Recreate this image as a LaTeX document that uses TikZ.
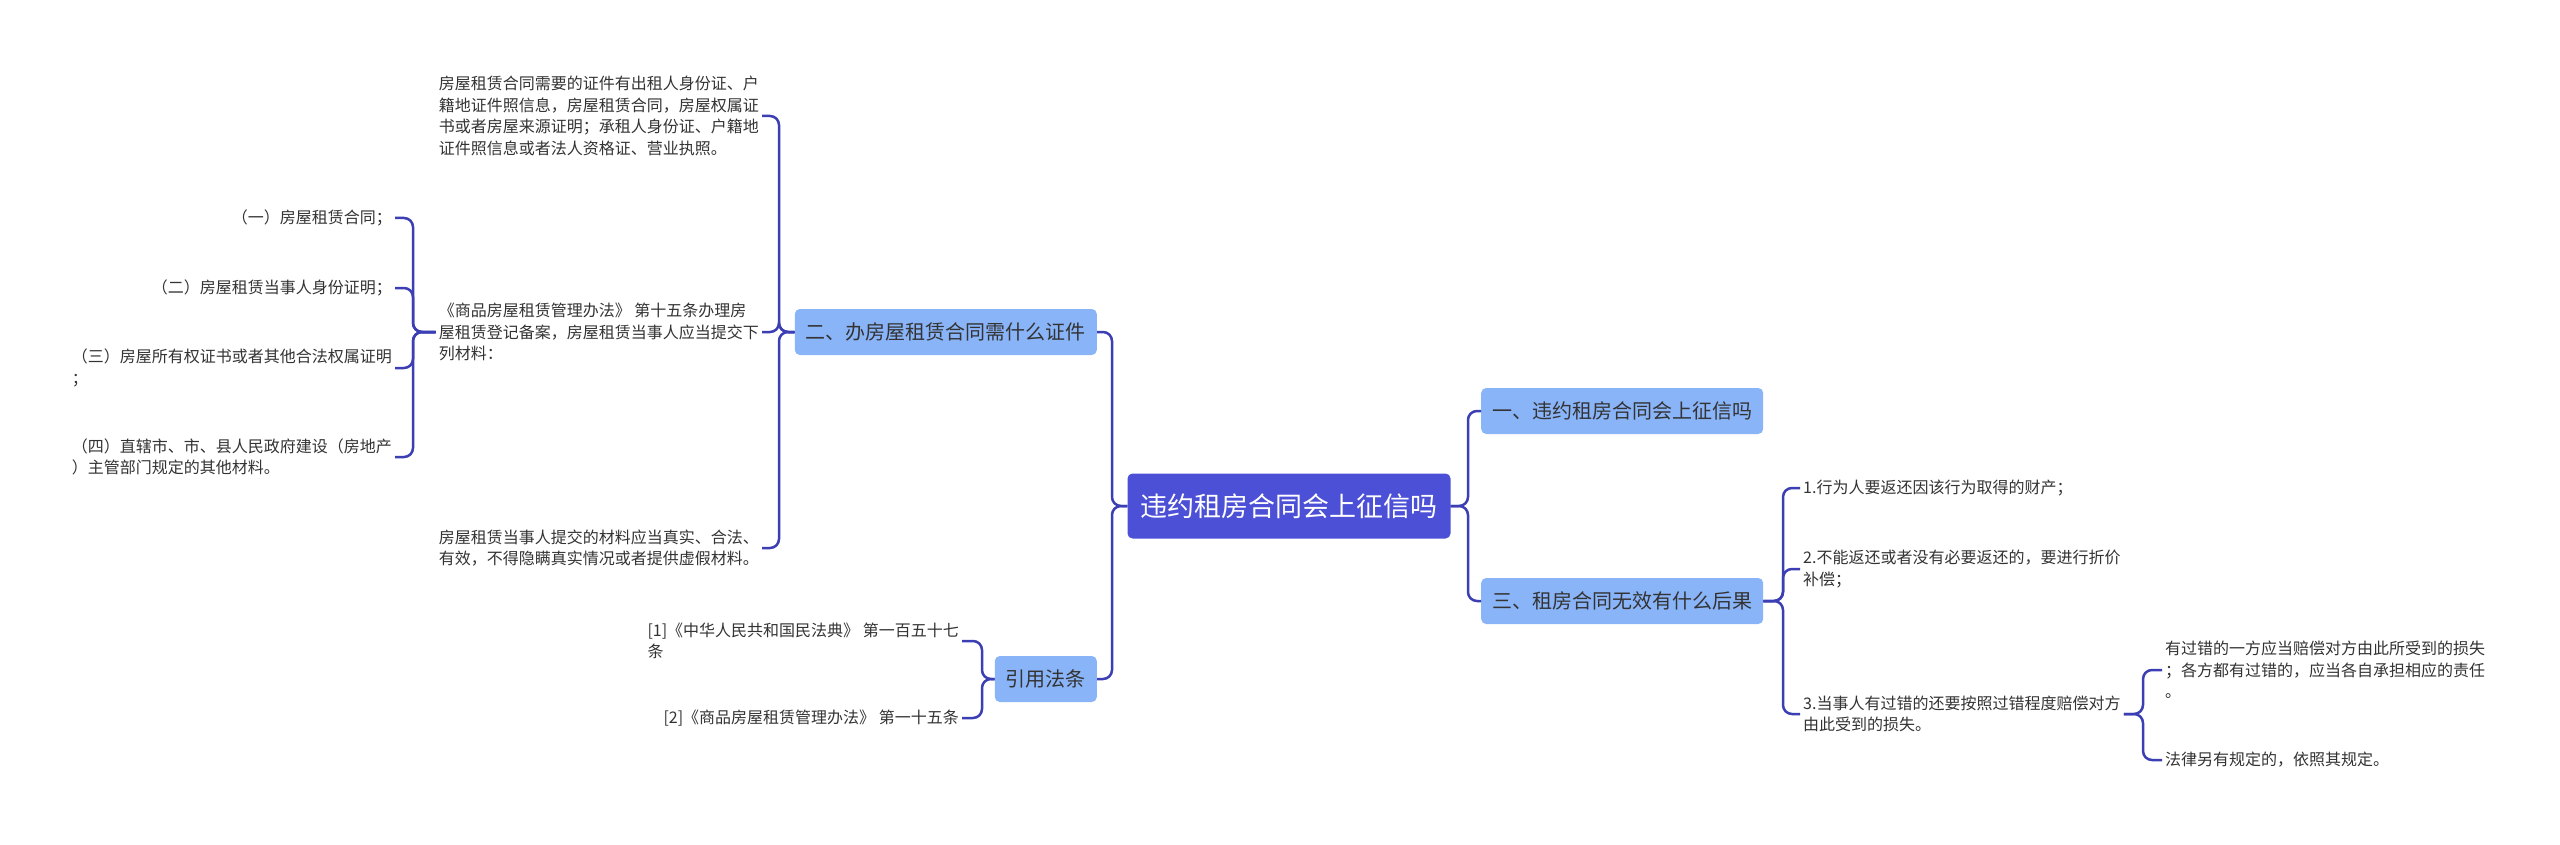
\documentclass[tikz,border=0pt]{standalone}
\usepackage{fontspec}
\newfontfamily\cjk{Noto Sans CJK SC}
\definecolor{linkblue}{HTML}{3B3FB3}
\definecolor{rootblue}{HTML}{4B50D6}
\definecolor{topicblue}{HTML}{8AB4F8}
\definecolor{leafgray}{HTML}{333333}

\begin{document}
\begin{tikzpicture}[x=1pt, y=-1pt,
    root/.style={fill=rootblue, rounded corners=5pt, text=white, font=\cjk\fontsize{27}{32}\selectfont, inner xsep=13pt, minimum height=65pt},
    topic/.style={fill=topicblue, rounded corners=5pt, text=leafgray, font=\cjk\fontsize{20}{24}\selectfont, inner xsep=11pt, minimum height=46pt},
    leaf/.style={text=leafgray, font=\cjk\fontsize{16}{21.5}\selectfont, align=left, inner xsep=3pt, inner ysep=2pt},
    link/.style={draw=linkblue, line width=2.5pt, rounded corners=9pt}]
  \fill[white] (0,0) rectangle (2560,845);
  \useasboundingbox (0,0) rectangle (2560,845);

  % centre and main topics
  \node[root] (root) at (1289,506) {违约租房合同会上征信吗};
  \node[topic, anchor=west] (s1) at (1481,411) {一、违约租房合同会上征信吗};
  \node[topic, anchor=west] (s3) at (1481,601) {三、租房合同无效有什么后果};
  \node[topic, anchor=east] (s2) at (1097,332) {二、办房屋租赁合同需什么证件};
  \node[topic, anchor=east] (s4) at (1097,679) {引用法条};

  % left side
  \node[leaf, anchor=east] (a) at (762,116) {房屋租赁合同需要的证件有出租人身份证、户\\籍地证件照信息，房屋租赁合同，房屋权属证\\书或者房屋来源证明；承租人身份证、户籍地\\证件照信息或者法人资格证、营业执照。};
  \node[leaf, anchor=east] (b) at (762,332) {《商品房屋租赁管理办法》 第十五条办理房\\屋租赁登记备案，房屋租赁当事人应当提交下\\列材料：};
  \node[leaf, anchor=east] (c) at (762,548) {房屋租赁当事人提交的材料应当真实、合法、\\有效，不得隐瞒真实情况或者提供虚假材料。};
  \node[leaf, anchor=east] (b1) at (395,218) {（一）房屋租赁合同；};
  \node[leaf, anchor=east] (b2) at (395,288) {（二）房屋租赁当事人身份证明；};
  \node[leaf, anchor=east] (b3) at (395,368) {（三）房屋所有权证书或者其他合法权属证明\\；};
  \node[leaf, anchor=east] (b4) at (395,457) {（四）直辖市、市、县人民政府建设（房地产\\）主管部门规定的其他材料。};
  \node[leaf, anchor=east] (r1) at (962,641) {[1]《中华人民共和国民法典》 第一百五十七\\条};
  \node[leaf, anchor=east] (r2) at (962,718) {[2]《商品房屋租赁管理办法》 第一十五条};

  % right side
  \node[leaf, anchor=west] (t1) at (1800,488) {1.行为人要返还因该行为取得的财产；};
  \node[leaf, anchor=west] (t2) at (1800,569) {2.不能返还或者没有必要返还的，要进行折价\\补偿；};
  \node[leaf, anchor=west] (t3) at (1800,714) {3.当事人有过错的还要按照过错程度赔偿对方\\由此受到的损失。};
  \node[leaf, anchor=west] (u1) at (2162,670) {有过错的一方应当赔偿对方由此所受到的损失\\；各方都有过错的，应当各自承担相应的责任\\。};
  \node[leaf, anchor=west] (u2) at (2162,760) {法律另有规定的，依照其规定。};

  % trunks
  \coordinate (tl) at (1112,0);
  \coordinate (tr) at (1468,0);
  \coordinate (ta) at (779,0);
  \coordinate (tb) at (413,0);
  \coordinate (ts) at (982,0);
  \coordinate (tt) at (1783,0);
  \coordinate (tu) at (2143,0);

  \foreach \c in {s2,s4} \draw[link] (root.west) -- (root.west -| tl) |- (\c.east);
  \foreach \c in {s1,s3} \draw[link] (root.east) -- (root.east -| tr) |- (\c.west);
  \foreach \c in {a,b,c} \draw[link] (s2.west) -- (s2.west -| ta) |- (\c.east);
  \foreach \c in {b1,b2,b3,b4} \draw[link] (b.west) -- (b.west -| tb) |- (\c.east);
  \foreach \c in {r1,r2} \draw[link] (s4.west) -- (s4.west -| ts) |- (\c.east);
  \foreach \c in {t1,t2,t3} \draw[link] (s3.east) -- (s3.east -| tt) |- (\c.west);
  \foreach \c in {u1,u2} \draw[link] (t3.east) -- (t3.east -| tu) |- (\c.west);
\end{tikzpicture}
\end{document}
